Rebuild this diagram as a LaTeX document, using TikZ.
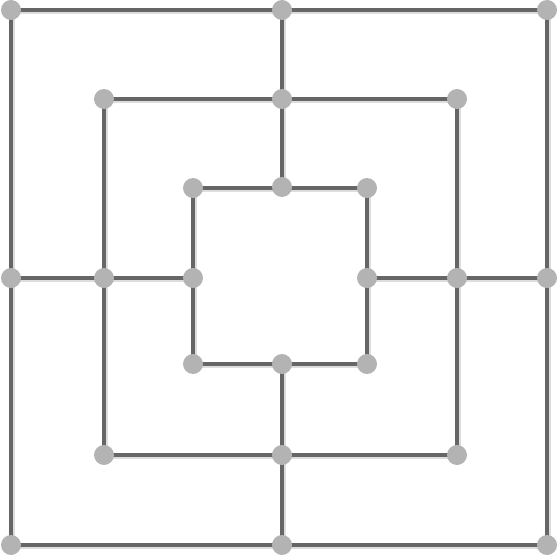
\documentclass[tikz,border=0pt]{standalone}
\definecolor{lineg}{HTML}{666666}
\definecolor{dotg}{HTML}{B3B3B3}
\definecolor{shadg}{HTML}{DDDDDD}
\tikzset{
  pt/.style={circle,fill=dotg,inner sep=0pt,minimum size=20pt},
  ln/.style={draw=lineg,line width=4.5pt},
  sh/.style={draw=shadg,line width=4.5pt,transform canvas={shift={(1.6pt,-1.8pt)}}}
}
\begin{document}
\begin{tikzpicture}[x=1pt,y=-1pt]
\useasboundingbox (0,0) rectangle (559,556);
% coordinates
\coordinate (o1) at (11,10);  \coordinate (o2) at (282,10);  \coordinate (o3) at (547,10);
\coordinate (o4) at (547,278); \coordinate (o5) at (547,545); \coordinate (o6) at (282,545);
\coordinate (o7) at (11,545); \coordinate (o8) at (11,278);
\coordinate (m1) at (104,99); \coordinate (m2) at (282,99); \coordinate (m3) at (457,99);
\coordinate (m4) at (457,278); \coordinate (m5) at (457,455); \coordinate (m6) at (282,455);
\coordinate (m7) at (104,455); \coordinate (m8) at (104,278);
\coordinate (i1) at (193,188); \coordinate (i2) at (282,187); \coordinate (i3) at (367,188);
\coordinate (i4) at (367,278); \coordinate (i5) at (367,364); \coordinate (i6) at (282,364);
\coordinate (i7) at (193,364); \coordinate (i8) at (193,278);
% shadows then lines
\foreach \s in {sh,ln}{
  \draw[\s] (o1) -- (o3) -- (o5) -- (o7) -- cycle;
  \draw[\s] (m1) -- (m3) -- (m5) -- (m7) -- cycle;
  \draw[\s] (i1) -- (i3) -- (i5) -- (i7) -- cycle;
  \draw[\s] (o2) -- (i2);
  \draw[\s] (i6) -- (o6);
  \draw[\s] (o8) -- (i8);
  \draw[\s] (i4) -- (o4);
}
% points
\foreach \p in {o1,o2,o3,o4,o5,o6,o7,o8,m1,m2,m3,m4,m5,m6,m7,m8,i1,i2,i3,i4,i5,i6,i7,i8}
  \node[pt] (n\p) at (\p) {};
\end{tikzpicture}
\end{document}
